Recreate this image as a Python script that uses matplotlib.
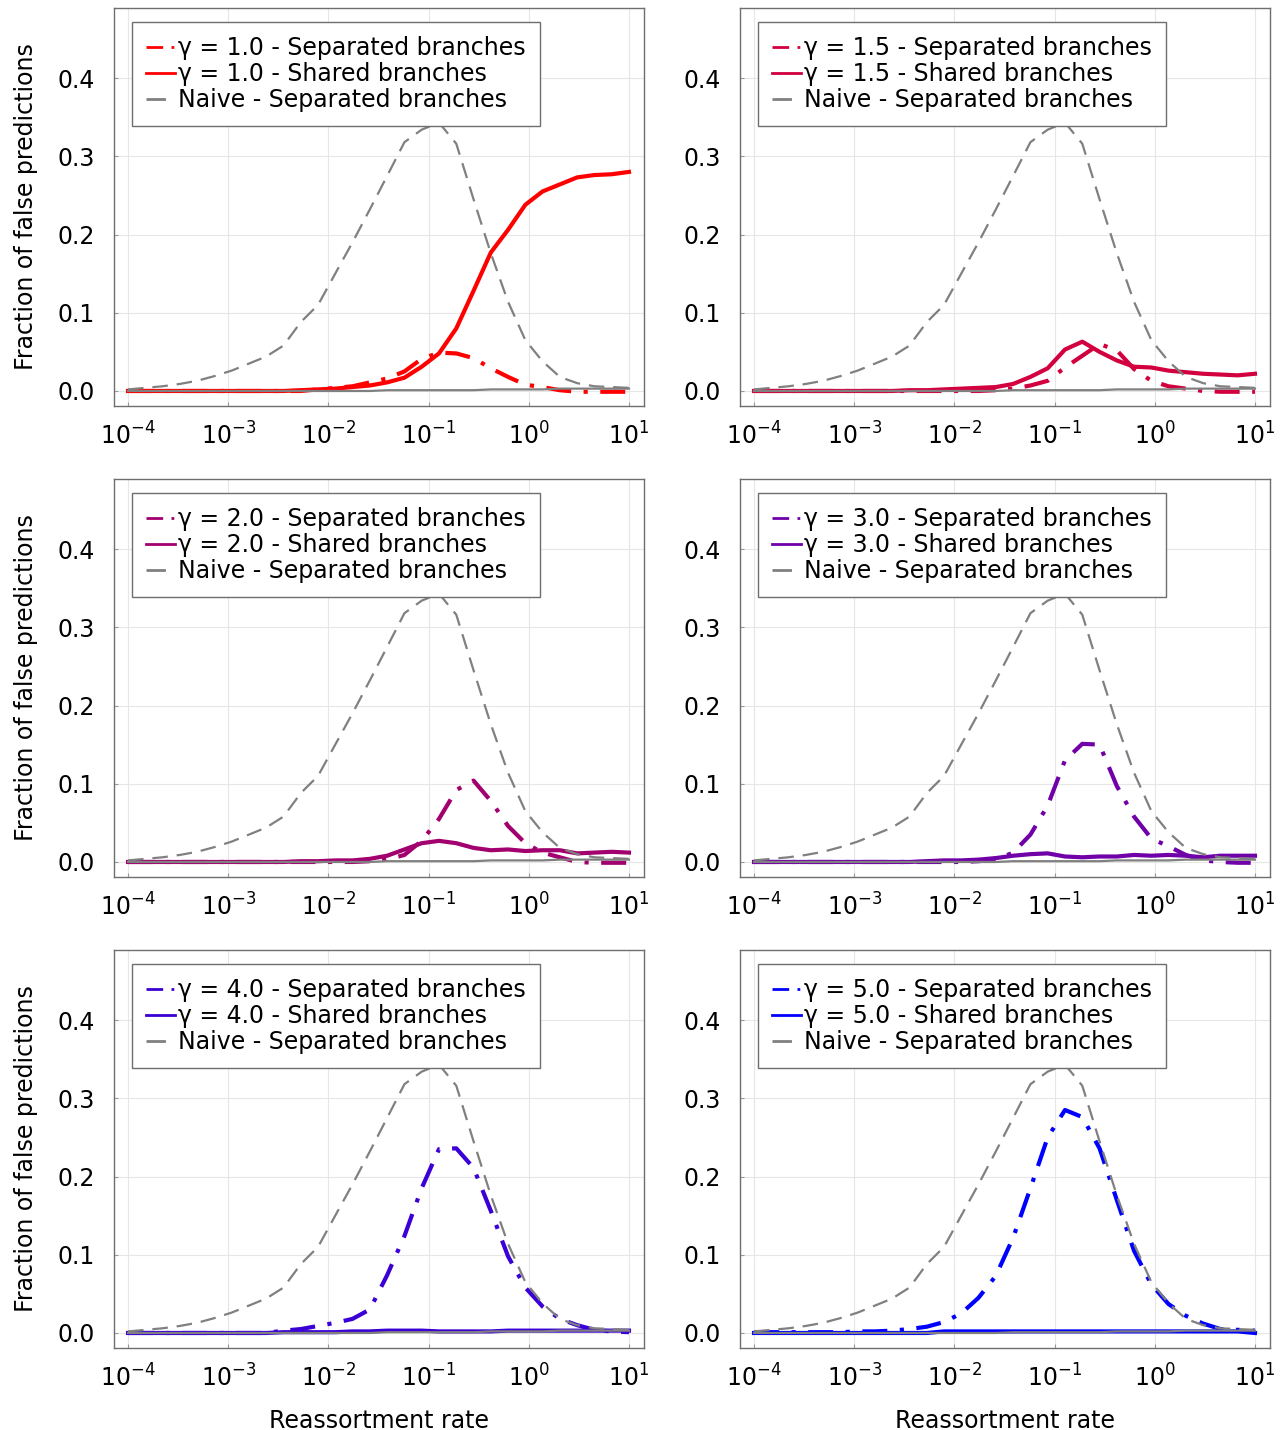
import matplotlib
matplotlib.use("Agg")
import matplotlib.pyplot as plt
import numpy as np

# reassortment rates (x grid of the simulations)
rate = [1.0e-4, 1.49e-4, 2.21e-4, 3.29e-4, 4.89e-4, 7.28e-4, 1.08e-3, 1.61e-3,
        2.39e-3, 3.56e-3, 5.30e-3, 7.88e-3, 1.17e-2, 1.74e-2, 2.59e-2, 3.86e-2,
        5.74e-2, 8.53e-2, 0.127, 0.189, 0.281, 0.418, 0.621, 0.924, 1.37, 2.04,
        3.04, 4.52, 6.72, 10.0]

naive_sep = [0.002, 0.004, 0.006, 0.009, 0.013, 0.019, 0.026, 0.035, 0.044, 0.058,
             0.088, 0.110, 0.150, 0.190, 0.232, 0.275, 0.318, 0.334, 0.343, 0.316,
             0.245, 0.176, 0.114, 0.065, 0.038, 0.018, 0.010, 0.006, 0.005, 0.004]
naive_shared = [0.0, 0.0, 0.0, 0.0, 0.0, 0.0, 0.0, 0.0, 0.0, 0.0,
                0.0, 0.0, 0.0, 0.0, 0.0, 0.001, 0.001, 0.001, 0.001, 0.001,
                0.001, 0.002, 0.002, 0.002, 0.002, 0.003, 0.003, 0.003, 0.003, 0.003]

gammas = ["1.0", "1.5", "2.0", "3.0", "4.0", "5.0"]
colors = ["#FF0000", "#D2003F", "#A3006F", "#7000A8", "#3A00D5", "#0000FF"]

sep = {
    "1.0": [0.0, 0.0, 0.0, 0.0, 0.0, 0.0, 0.0, 0.0, 0.0, 0.0,
            0.0, 0.002, 0.004, 0.006, 0.011, 0.016, 0.025, 0.041, 0.049, 0.048,
            0.042, 0.029, 0.018, 0.008, 0.005, 0.001, -0.001, -0.001, -0.001, -0.001],
    "1.5": [0.0, 0.0, 0.0, 0.0, 0.0, 0.0, 0.0, 0.0, 0.0, 0.0,
            0.0, 0.0, 0.0, 0.0, 0.001, 0.003, 0.007, 0.013, 0.030, 0.045,
            0.060, 0.052, 0.028, 0.013, 0.006, 0.003, 0.0, -0.001, -0.001, -0.001],
    "2.0": [0.0, 0.0, 0.0, 0.0, 0.0, 0.0, 0.0, 0.0, 0.0, 0.0,
            0.0, 0.0, 0.0, 0.0, 0.001, 0.003, 0.009, 0.027, 0.055, 0.092,
            0.104, 0.078, 0.046, 0.024, 0.012, 0.006, 0.0, -0.001, -0.001, -0.001],
    "3.0": [0.0, 0.0, 0.0, 0.0, 0.0, 0.0, 0.0, 0.0, 0.0, 0.0,
            0.0, 0.0, 0.0, 0.001, 0.003, 0.012, 0.035, 0.072, 0.130, 0.151,
            0.150, 0.097, 0.058, 0.030, 0.020, 0.009, 0.002, 0.0, -0.001, -0.001],
    "4.0": [0.0, 0.0, 0.0, 0.0, 0.0, 0.0, 0.0, 0.0, 0.0, 0.003,
            0.005, 0.009, 0.013, 0.018, 0.030, 0.074, 0.124, 0.185, 0.235, 0.236,
            0.211, 0.156, 0.098, 0.058, 0.034, 0.018, 0.010, 0.004, 0.002, 0.001],
    "5.0": [0.001, 0.001, 0.001, 0.001, 0.001, 0.001, 0.002, 0.002, 0.003, 0.005,
            0.008, 0.014, 0.025, 0.045, 0.073, 0.122, 0.185, 0.250, 0.285, 0.276,
            0.236, 0.170, 0.105, 0.062, 0.037, 0.022, 0.012, 0.005, 0.004, 0.003],
}

shared = {
    "1.0": [0.0, 0.0, 0.0, 0.0, 0.0, 0.0, 0.0, 0.0, 0.0, 0.0,
            0.001, 0.002, 0.003, 0.005, 0.007, 0.011, 0.017, 0.031, 0.048, 0.080,
            0.128, 0.177, 0.206, 0.238, 0.255, 0.264, 0.273, 0.276, 0.277, 0.280],
    "1.5": [0.0, 0.0, 0.0, 0.0, 0.0, 0.0, 0.0, 0.0, 0.0, 0.001,
            0.001, 0.002, 0.003, 0.004, 0.005, 0.009, 0.018, 0.029, 0.053, 0.063,
            0.050, 0.039, 0.031, 0.030, 0.026, 0.024, 0.022, 0.021, 0.020, 0.022],
    "2.0": [0.0, 0.0, 0.0, 0.0, 0.0, 0.0, 0.0, 0.0, 0.0, 0.0,
            0.001, 0.001, 0.002, 0.002, 0.004, 0.008, 0.016, 0.024, 0.027, 0.024,
            0.018, 0.015, 0.016, 0.014, 0.015, 0.015, 0.011, 0.012, 0.013, 0.012],
    "3.0": [0.0, 0.0, 0.0, 0.0, 0.0, 0.0, 0.0, 0.0, 0.0, 0.0,
            0.001, 0.002, 0.002, 0.003, 0.005, 0.008, 0.010, 0.011, 0.007, 0.006,
            0.007, 0.007, 0.009, 0.008, 0.009, 0.008, 0.006, 0.008, 0.008, 0.008],
    "4.0": [0.0, 0.0, 0.0, 0.0, 0.0, 0.0, 0.0, 0.0, 0.0, 0.001,
            0.001, 0.001, 0.001, 0.002, 0.002, 0.003, 0.003, 0.003, 0.002, 0.002,
            0.002, 0.002, 0.003, 0.003, 0.003, 0.003, 0.003, 0.003, 0.003, 0.003],
    "5.0": [0.0, 0.0, 0.0, 0.0, 0.0, 0.0, 0.0, 0.0, 0.0, 0.0,
            0.0, 0.002, 0.002, 0.002, 0.002, 0.002, 0.002, 0.002, 0.002, 0.002,
            0.002, 0.002, 0.002, 0.002, 0.002, 0.002, 0.002, 0.002, 0.002, 0.0],
}

plt.rcParams['font.family'] = ['DejaVu Sans']

fig = plt.figure(figsize=(12.88, 14.3), dpi=100)
W, H = 1288, 1430
col_left = [114, 740]
row_top = [8, 479, 950]
ax_w, ax_h = 530, 398

for i, g in enumerate(gammas):
    r, c = divmod(i, 2)
    ax = fig.add_axes([col_left[c] / W, 1 - (row_top[r] + ax_h) / H, ax_w / W, ax_h / H])
    col = colors[i]
    ax.plot(rate, sep[g], color=col, lw=3.0, linestyle=(0, (6, 3, 1, 3)),
            label="γ = %s - Separated branches" % g)
    ax.plot(rate, shared[g], color=col, lw=3.0, label="γ = %s - Shared branches" % g)
    ax.plot(rate, naive_sep, color="gray", lw=1.6, linestyle=(0, (7, 4)),
            label="Naive - Separated branches")
    ax.plot(rate, naive_shared, color="gray", lw=1.6)

    ax.set_xscale("log")
    ax.set_xlim(10 ** -4.14, 10 ** 1.15)
    ax.set_ylim(-0.0192, 0.4895)
    ax.set_xticks([1e-4, 1e-3, 1e-2, 1e-1, 1e0, 1e1])
    ax.xaxis.set_minor_locator(matplotlib.ticker.NullLocator())
    ax.set_yticks([0.0, 0.1, 0.2, 0.3, 0.4])
    ax.set_yticklabels(["0.0", "0.1", "0.2", "0.3", "0.4"])
    ax.grid(True, color="#e6e6e6", lw=0.8)
    ax.set_axisbelow(True)
    for s in ax.spines.values():
        s.set_color("#6e6e6e")
        s.set_linewidth(1.0)
    ax.tick_params(axis="both", direction="in", length=3, color="#9a9a9a",
                   labelsize=17)
    ax.tick_params(axis="x", pad=12)
    ax.tick_params(axis="y", pad=14)

    if c == 0:
        ax.set_ylabel("Fraction of false predictions", fontsize=17, labelpad=14)
    if r == 2:
        ax.set_xlabel("Reassortment rate", fontsize=17, labelpad=12)

    leg = ax.legend(loc="upper left", bbox_to_anchor=(0.034, 0.965), borderaxespad=0,
                    fontsize=17, fancybox=False, framealpha=1, edgecolor="#6e6e6e",
                    handlelength=1.2, handletextpad=0.15, labelspacing=0.08,
                    borderpad=0.6)
    leg.get_frame().set_linewidth(1.0)
    for line in leg.get_lines():
        line.set_linewidth(2.0)

fig.savefig("out.png", dpi=100)
